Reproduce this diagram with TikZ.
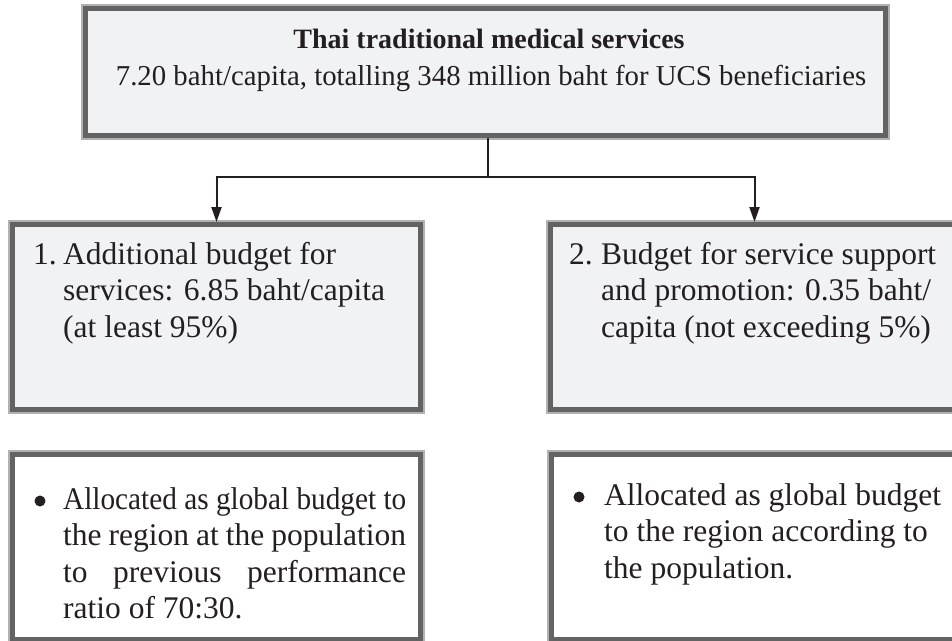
\documentclass[tikz,border=0pt]{standalone}
\usepackage{fontspec}
\usepackage{graphicx}
\setmainfont{Liberation Serif}
\usetikzlibrary{arrows.meta}
\definecolor{frame}{HTML}{636363}
\definecolor{paper}{HTML}{F1F2F4}
\definecolor{ink}{HTML}{231F20}
\newcommand{\bodyfont}{\fontsize{31.5}{36.5}\selectfont}
\newcommand{\topfont}{\fontsize{28}{34}\selectfont}
\newcommand{\subfont}{\fontsize{28.8}{34}\selectfont}
\tikzset{
  panel/.style={draw=frame, line width=5pt,
    preaction={draw=black!30, line width=9pt},
    minimum width=408pt, minimum height=185pt, inner sep=0pt},
  txt/.style={anchor=base west, inner sep=0pt, text=ink},
  conn/.style={draw=ink, line width=2pt},
  arr/.style={conn, -{Triangle[length=15pt,width=10pt]}},
  dot/.style={fill=ink}
}
\begin{document}
\begin{tikzpicture}[x=1pt,y=-1pt]
\useasboundingbox (0,0) rectangle (952,640);
\clip (0,0) rectangle (952,640);
\fill[white] (0,0) rectangle (952,640);
% boxes
\node[panel, fill=paper, minimum width=800pt, minimum height=127pt] (top) at (485.5,72) {};
\node[panel, fill=paper] (b1) at (216.5,317) {};
\node[panel, fill=paper] (b2) at (754.5,317) {};
\node[panel, fill=white] (b3) at (216.5,547) {};
\node[panel, fill=white] (b4) at (755.5,547) {};
% connectors
\coordinate (j) at (487.5,177);
\draw[conn] (top.south -| j) -- (j);
\draw[arr] (j) -| (b1.north);
\draw[arr] (j) -| (b2.north);
% texts
\node[anchor=base, inner sep=0pt, text=ink, font=\topfont\bfseries] (t1) at (489,48) {Thai traditional medical services};
\node[anchor=base, inner sep=0pt, text=ink, font=\subfont] (t2) at (491,85) {7.20 baht/capita, totalling 348 million baht for UCS beneficiaries};
\node[txt] (x1) at (33,264) {\parbox[t]{400pt}{\bodyfont
  \makebox[30pt][l]{1.}Additional budget for\\
  \hspace*{30pt}services: 6.85 baht/capita\\
  \hspace*{30pt}(at least 95\%)}};
\node[txt] (x2) at (569,264) {\parbox[t]{400pt}{\bodyfont
  \makebox[32pt][l]{2.}Budget for service support\\
  \hspace*{32pt}and promotion: 0.35 baht/\\
  \hspace*{32pt}capita (not exceeding 5\%)}};
\fill[dot] (40,501) circle[radius=5.5pt];
\node[txt] (x3) at (63,509) {\parbox[t]{400pt}{\bodyfont
  \resizebox{343pt}{\height}{Allocated as global budget to}\\
  \hbox to 343pt{the region at the population}\\
  \hbox to 343pt{to previous performance}\\
  ratio of 70:30.}};
\fill[dot] (579,497) circle[radius=5.5pt];
\node[txt] (x4) at (604,505) {\parbox[t]{400pt}{\bodyfont
  Allocated as global budget\\
  to the region according to\\
  the population.}};
\end{tikzpicture}
\end{document}
